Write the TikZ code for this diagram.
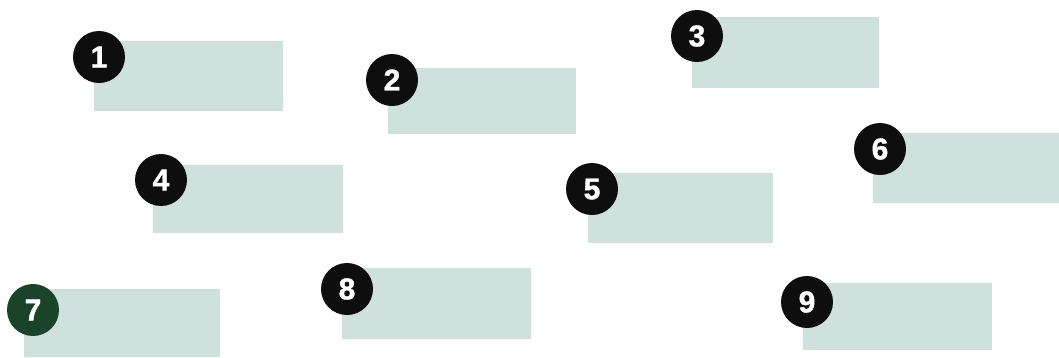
\documentclass[tikz,border=0pt]{standalone}
\usepackage{fontspec}
\setmainfont{Liberation Sans}
\newfontfamily\numfont[FakeBold=1.3]{Liberation Sans Bold}
\definecolor{boxfill}{RGB}{207,225,221}
\definecolor{numdark}{RGB}{14,14,14}
\definecolor{numgreen}{RGB}{26,68,42}
\tikzset{
  labelbox/.style={fill=boxfill, draw=none},
  numdisc/.style={circle, fill=numdark, draw=none, minimum size=52pt, inner sep=0pt,
    text=white, font=\numfont\fontsize{30}{30}\selectfont},
}
\begin{document}
\begin{tikzpicture}[x=1pt,y=-1pt]
\useasboundingbox[fill=white] (0,0) rectangle (1059,357);
% boxes
\fill[labelbox] (94,41) rectangle (283,111) coordinate (b1);
\fill[labelbox] (388,68) rectangle (576,134) coordinate (b2);
\fill[labelbox] (692,17) rectangle (879,88) coordinate (b3);
\fill[labelbox] (153,165) rectangle (343,233) coordinate (b4);
\fill[labelbox] (588,173) rectangle (773,243) coordinate (b5);
\fill[labelbox] (873,133) rectangle (1059,203) coordinate (b6);
\fill[labelbox] (24,289) rectangle (220,357) coordinate (b7);
\fill[labelbox] (342,268) rectangle (531,339) coordinate (b8);
\fill[labelbox] (803,283) rectangle (992,350) coordinate (b9);
% numbered discs
\node[numdisc] (n1) at (99,57) {1};
\node[numdisc] (n2) at (392,80) {2};
\node[numdisc] (n3) at (697,36) {3};
\node[numdisc] (n4) at (161,180) {4};
\node[numdisc] (n5) at (592,189) {5};
\node[numdisc] (n6) at (880,149) {6};
\node[numdisc, fill=numgreen] (n7) at (33,310) {7};
\node[numdisc] (n8) at (347,289) {8};
\node[numdisc] (n9) at (807,302) {9};
\end{tikzpicture}
\end{document}
